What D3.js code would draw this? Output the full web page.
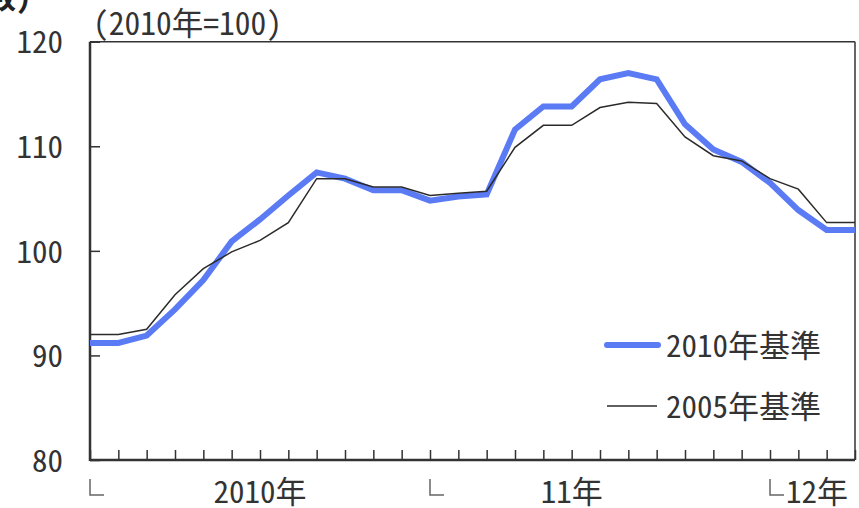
<!DOCTYPE html>
<html>
<head>
<meta charset="utf-8">
<script src="https://cdn.jsdelivr.net/npm/d3@7"></script>
<style>
  body { margin: 0; background: #fff; }
  svg text { font-family: "Noto Sans CJK JP", "Noto Sans", sans-serif; fill: #333; font-feature-settings: "hwid"; }
</style>
</head>
<body>
<div id="chart"></div>
<script>
// months Jan 2010 .. Apr 2012
const months = ["2010/1","2010/2","2010/3","2010/4","2010/5","2010/6","2010/7","2010/8","2010/9","2010/10","2010/11","2010/12",
  "2011/1","2011/2","2011/3","2011/4","2011/5","2011/6","2011/7","2011/8","2011/9","2011/10","2011/11","2011/12",
  "2012/1","2012/2","2012/3","2012/4"];
const base2010 = [91.2, 91.2, 91.9, 94.4, 97.2, 100.9, 103.0, 105.3, 107.5, 106.9, 105.8, 105.8, 104.8, 105.2,
  105.4, 111.6, 113.8, 113.8, 116.4, 117.0, 116.4, 112.1, 109.7, 108.5, 106.5, 103.9, 102.0, 102.0];
const base2005 = [92.0, 92.0, 92.5, 95.8, 98.3, 99.9, 101.0, 102.7, 106.9, 106.9, 106.1, 106.1, 105.3, 105.5,
  105.7, 109.9, 112.0, 112.0, 113.7, 114.2, 114.1, 110.9, 109.1, 108.6, 106.9, 105.9, 102.7, 102.7];
const yTicks = [80, 90, 100, 110, 120];
const yearStarts = ["2010/1", "2011/1", "2012/1"];
const yearLabels = [["2010/7", "2010年"], ["2011/6", "11年"]];
const lastYearLabel = "12年";
const unitLabel = "（2010年=100）";
const seriesNames = ["2010年基準", "2005年基準"];

const w = 859, h = 508;
const padL = 90, padR = 855, padT = 41.7, padB = 460;

const svg = d3.select("#chart").append("svg")
    .attr("width", w)
    .attr("height", h);

const x = d3.scalePoint().domain(months).range([padL, padR]);
const y = d3.scaleLinear().domain([80, 120]).range([padB, padT]);

// cut-off title fragment at the very top
svg.append("text")
    .attr("x", -14).attr("y", 8)
    .style("font-size", "30px").style("font-weight", "bold").style("fill", "#222")
    .text("数）");

// unit label
svg.append("text")
    .attr("x", 93).attr("y", 35)
    .style("font-size", "31.5px")
    .text(unitLabel);

// y axis
const yAxis = d3.axisLeft(y).tickValues(yTicks).tickSizeInner(-10).tickSizeOuter(0).tickPadding(27);
const gy = svg.append("g").attr("transform", "translate(" + padL + ",0)").call(yAxis);
gy.select(".domain").remove();
gy.selectAll(".tick line").attr("stroke", "#333").attr("stroke-width", 1.5);
gy.selectAll(".tick text").style("font-size", "31px").attr("dy", "0.36em");

// x axis ticks (no labels)
const xAxis = d3.axisBottom(x).tickSizeInner(-10).tickSizeOuter(0).tickFormat("");
const gx = svg.append("g").attr("transform", "translate(0," + padB + ")").call(xAxis);
gx.select(".domain").remove();
gx.selectAll(".tick line").attr("stroke", "#333").attr("stroke-width", 1.5);

// frame
svg.append("line").attr("x1", padL).attr("x2", padR).attr("y1", padT).attr("y2", padT)
    .attr("stroke", "#333").attr("stroke-width", 1.5);
svg.append("line").attr("x1", padR).attr("x2", padR).attr("y1", padT).attr("y2", padB)
    .attr("stroke", "#333").attr("stroke-width", 1.5);
svg.append("line").attr("x1", padL).attr("x2", padL).attr("y1", padT).attr("y2", padB + 1)
    .attr("stroke", "#333").attr("stroke-width", 2.5);
svg.append("line").attr("x1", padL).attr("x2", padR).attr("y1", padB).attr("y2", padB)
    .attr("stroke", "#333").attr("stroke-width", 2.5);

// year start marks
svg.selectAll(".ymark")
    .data(yearStarts)
    .enter()
    .append("path")
    .attr("class", "ymark")
    .attr("d", function (d) {
        const x0 = x(d);
        return "M" + x0 + ",479V495H" + (x0 + 14);
    })
    .attr("fill", "none").attr("stroke", "#666").attr("stroke-width", 1.5);

svg.selectAll(".ylabel")
    .data(yearLabels)
    .enter()
    .append("text")
    .attr("class", "ylabel")
    .attr("x", function (d) { return x(d[0]); })
    .attr("y", 503)
    .style("text-anchor", "middle")
    .style("font-size", "31px")
    .text(function (d) { return d[1]; });

svg.append("text")
    .attr("x", x(yearStarts[2]) + 16)
    .attr("y", 503)
    .style("font-size", "31px")
    .text(lastYearLabel);

// lines
const line = d3.line()
    .x(function (d, i) { return x(months[i]); })
    .y(function (d) { return y(d); });

svg.append("path").datum(base2010)
    .attr("d", line)
    .attr("fill", "none").attr("stroke", "#5b7bf5").attr("stroke-width", 6);

svg.append("path").datum(base2005)
    .attr("d", line)
    .attr("fill", "none").attr("stroke", "#2b2b2b").attr("stroke-width", 1.5);

// legend
const legend = svg.append("g");
legend.append("line").attr("x1", 607).attr("x2", 658).attr("y1", 345).attr("y2", 345)
    .attr("stroke", "#5b7bf5").attr("stroke-width", 6).attr("stroke-linecap", "round");
legend.append("text").attr("x", 666).attr("y", 357).style("font-size", "31px").text(seriesNames[0]);
legend.append("line").attr("x1", 607).attr("x2", 657).attr("y1", 406).attr("y2", 406)
    .attr("stroke", "#2b2b2b").attr("stroke-width", 1.5);
legend.append("text").attr("x", 666).attr("y", 418).style("font-size", "31px").text(seriesNames[1]);
</script>
</body>
</html>
